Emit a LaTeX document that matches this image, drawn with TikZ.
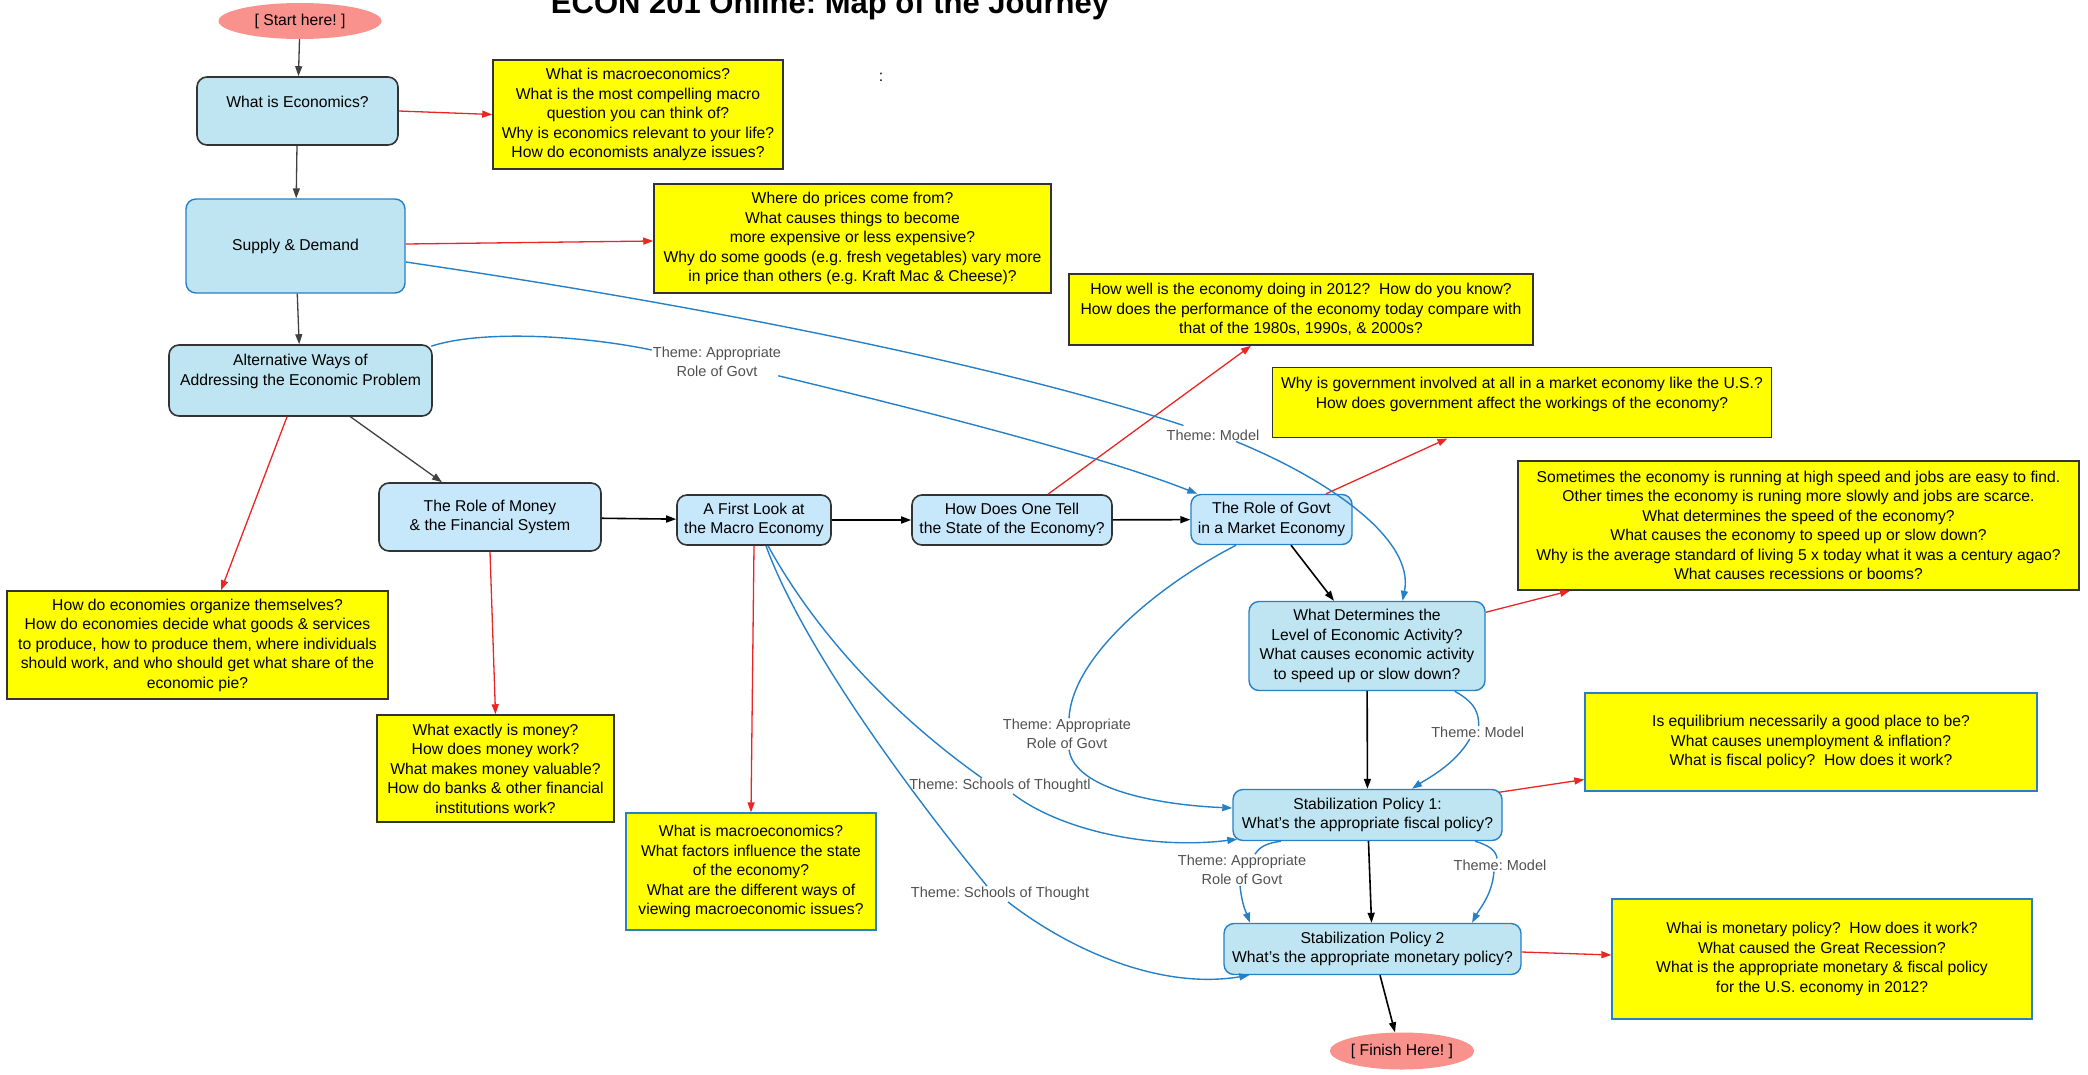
\documentclass[tikz,border=0pt]{standalone}
\usepackage{fontspec}
\setmainfont{Liberation Sans}
\usetikzlibrary{arrows.meta,shapes.geometric}
\frenchspacing
\definecolor{salmon}{RGB}{249,146,140}
\definecolor{fillA}{RGB}{190,229,241}
\definecolor{fillB}{RGB}{199,231,251}
\definecolor{darkline}{RGB}{51,51,51}
\definecolor{blueline}{RGB}{38,128,200}
\definecolor{redline}{RGB}{236,36,36}
\definecolor{ylw}{RGB}{255,255,0}
\definecolor{lblgray}{RGB}{80,80,80}
\definecolor{arrowgray}{RGB}{64,64,64}
\begin{document}
\begin{tikzpicture}[x=1pt,y=-1pt,
  every node/.style={font=\fontsize{15.7}{19.5}\selectfont, align=center, inner sep=0pt},
  oval/.style={ellipse, fill=salmon},
  darkbox/.style={rectangle, rounded corners=10pt, draw=darkline, line width=1.6pt},
  bluebox/.style={rectangle, rounded corners=10pt, draw=blueline, line width=1.4pt},
  ydark/.style={rectangle, fill=ylw, draw=darkline, line width=1.5pt},
  yblue/.style={rectangle, fill=ylw, draw=blueline, line width=1.3pt},
  lbl/.style={font=\fontsize{14.5}{18.5}\selectfont, text=lblgray, inner sep=1pt},
  tip/.style={-{Triangle[length=10pt,width=7pt]}},
  garr/.style={tip, draw=arrowgray, line width=1.3pt},
  karr/.style={tip, draw=black, line width=1.6pt},
  rarr/.style={tip, draw=redline, line width=1.3pt},
  bline/.style={draw=blueline, line width=1.4pt},
  barr/.style={tip, draw=blueline, line width=1.4pt}
]
\useasboundingbox (0,0) rectangle (2088,1074);

% title and stray colon
\node[font=\bfseries\fontsize{31}{37}\selectfont, anchor=base] (title) at (830,13) {ECON 201 Online: Map of the Journey};
\node (colon) at (881,77) {:};

% main nodes
\node[oval, minimum width=163pt, minimum height=36pt] (start) at (300,21) {[ Start here! ]};
\node[darkbox, fill=fillA, minimum width=201pt, minimum height=68pt] (whatecon) at (297.5,111) {};
\node (whateconT) at (297.5,102) {What is Economics?};
\node[bluebox, fill=fillA, minimum width=219pt, minimum height=94pt] (snd) at (295.5,246) {Supply \& Demand};
\node[darkbox, fill=fillA, minimum width=263pt, minimum height=71pt] (alt) at (300.5,380.5) {};
\node (altT) at (300.5,371.5) {Alternative Ways of\\Addressing the Economic Problem};
\node[darkbox, fill=fillB, minimum width=222pt, minimum height=68pt] (money) at (490,517) {The Role of Money\\\& the Financial System};
\node[darkbox, fill=fillB, minimum width=154pt, minimum height=50pt] (first) at (754,520) {A First Look at\\the Macro Economy};
\node[darkbox, fill=fillB, minimum width=200pt, minimum height=50pt] (howtell) at (1012,520) {How Does One Tell\\the State of the Economy?};
\node[bluebox, fill=fillB, minimum width=161pt, minimum height=50pt] (rolegovt) at (1271.5,519.5) {The Role of Govt\\in a Market Economy};
\node[bluebox, fill=fillA, minimum width=236pt, minimum height=89pt] (whatdet) at (1367,646) {What Determines the\\Level of Economic Activity?\\What causes economic activity\\to speed up or slow down?};
\node[bluebox, fill=fillA, minimum width=269pt, minimum height=51pt] (stab1) at (1367.5,815) {Stabilization Policy 1:\\What's the appropriate fiscal policy?};
\node[bluebox, fill=fillA, minimum width=297pt, minimum height=51pt] (stab2) at (1372.5,949) {Stabilization Policy 2\\What's the appropriate monetary policy?};
\node[oval, minimum width=140pt, minimum height=37pt] (finish) at (1402,1051) {[ Finish Here! ]};

% question boxes
\node[ydark, minimum width=290pt, minimum height=109pt] (y1) at (638,114.5) {What is macroeconomics?\\What is the most compelling macro\\question you can think of?\\Why is economics relevant to your life?\\How do economists analyze issues?};
\node[ydark, minimum width=397pt, minimum height=109pt] (y2) at (852.5,238.5) {Where do prices come from?\\What causes things to become\\more expensive or less expensive?\\Why do some goods (e.g. fresh vegetables) vary more\\in price than others (e.g. Kraft Mac \& Cheese)?};
\node[ydark, minimum width=464pt, minimum height=71pt] (yhow) at (1301,309.5) {How well is the economy doing in 2012?\ \ How do you know?\\How does the performance of the economy today compare with\\that of the 1980s, 1990s, \& 2000s?};
\node[ydark, minimum width=499pt, minimum height=70pt] (ygov) at (1522,402.7) {};
\node (ygovT) at (1522,394.5) {Why is government involved at all in a market economy like the U.S.?\\How does government affect the workings of the economy?};
\node[ydark, minimum width=561pt, minimum height=129pt] (yspeed) at (1798.5,525.5) {Sometimes the economy is running at high speed and jobs are easy to find.\\Other times the economy is runing more slowly and jobs are scarce.\\What determines the speed of the economy?\\What causes the economy to speed up or slow down?\\Why is the average standard of living 5 x today what it was a century agao?\\What causes recessions or booms?};
\node[ydark, minimum width=381pt, minimum height=108pt] (yorg) at (197.5,645) {How do economies organize themselves?\\How do economies decide what goods \& services\\to produce, how to produce them, where individuals\\should work, and who should get what share of the\\economic pie?};
\node[ydark, minimum width=237pt, minimum height=107pt] (ymoney) at (495.5,768.5) {What exactly is money?\\How does money work?\\What makes money valuable?\\How do banks \& other financial\\institutions work?};
\node[yblue, minimum width=250pt, minimum height=117pt] (ymacro) at (751,871.5) {What is macroeconomics?\\What factors influence the state\\of the economy?\\What are the different ways of\\viewing macroeconomic issues?};
\node[yblue, minimum width=452pt, minimum height=98pt] (yequil) at (1811,742) {Is equilibrium necessarily a good place to be?\\What causes unemployment \& inflation?\\What is fiscal policy?\ \ How does it work?};
\node[yblue, minimum width=420pt, minimum height=120pt] (ymon) at (1822,959) {Whai is monetary policy?\ \ How does it work?\\What caused the Great Recession?\\What is the appropriate monetary \& fiscal policy\\for the U.S. economy in 2012?};

% theme labels
\node[lbl] (lblA1) at (717,362) {Theme: Appropriate\\Role of Govt};
\node[lbl] (lblM1) at (1213,435) {Theme: Model};
\node[lbl] (lblA2) at (1067,734) {Theme: Appropriate\\Role of Govt};
\node[lbl] (lblM2) at (1477.7,732.5) {Theme: Model};
\node[lbl] (lblS1) at (1000,786) {Theme: Schools of Thoughtl};
\node[lbl] (lblS2) at (1000,894) {Theme: Schools of Thought};
\node[lbl] (lblA3) at (1242,870) {Theme: Appropriate\\Role of Govt};
\node[lbl] (lblM3) at (1500,865) {Theme: Model};

% main flow
\draw[garr] (start) -- (whatecon);
\draw[garr] (whatecon) -- (snd);
\draw[garr] (snd) -- (alt);
\draw[garr] ([xshift=50pt]alt.south) -- ([xshift=-48pt]money.north);
\draw[karr] (money) -- (first);
\draw[karr] (first) -- (howtell);
\draw[karr] (howtell) -- (rolegovt);
\draw[karr] ([xshift=19.5pt]rolegovt.south) -- ([xshift=-33pt]whatdet.north);
\draw[karr] (whatdet) -- (stab1);
\draw[karr] (stab1) -- (stab2);
\draw[karr] ([xshift=7.5pt]stab2.south) -- ([xshift=-7pt]finish.north);

% question arrows
\draw[rarr] (whatecon.east) -- (y1.west);
\draw[rarr] ([yshift=2pt]snd.east) -- ([yshift=-2.5pt]y2.west);
\draw[rarr] ([xshift=-13.5pt]alt.south) -- ([xshift=23.5pt]yorg.north);
\draw[rarr] (money.south) -- (ymoney.north);
\draw[rarr] (first.south) -- (ymacro.north);
\draw[rarr] ([xshift=36pt]howtell.north) -- ([xshift=-50pt]yhow.south);
\draw[rarr] ([xshift=54.5pt]rolegovt.north) -- ([xshift=-74.5pt]ygov.south);
\draw[rarr] ([yshift=-11.5pt]whatdet.north east) -- ([xshift=-228.5pt]yspeed.south);
\draw[rarr] ([xshift=-4pt,yshift=-3.5pt]stab1.north east) -- ([yshift=-37.5pt]yequil.west);
\draw[rarr] ([yshift=-3pt]stab2.east) -- ([yshift=4pt]ymon.west);

% theme connectors
\draw[bline] ([yshift=-16pt]snd.east) .. controls (700,305) and (1000,365) .. ([xshift=18pt,yshift=3pt]lblM1.north west);
\draw[barr] ([xshift=23pt]lblM1.south) .. controls (1330,480) and (1415,540) .. ([xshift=35.5pt]whatdet.north);

\draw[bline] ([xshift=-1.5pt,yshift=-2pt]alt.north east) .. controls (480,330) and (580,335) .. ([yshift=12pt]lblA1.west);
\draw[barr] ([xshift=-4pt,yshift=2pt]lblA1.south east) .. controls (900,405) and (1100,455) .. ([xshift=7pt]rolegovt.north west);

\draw[bline] ([xshift=-35.5pt]rolegovt.south) .. controls (1150,590) and (1072,660) .. ([xshift=2pt]lblA2.north);
\draw[barr] ([xshift=2pt]lblA2.south) .. controls (1075,790) and (1160,805) .. ([yshift=7pt]stab1.west);

\draw[bline] ([xshift=87.7pt]whatdet.south) .. controls (1470,700) and (1479,708) .. ([xshift=1pt]lblM2.north);
\draw[barr] ([xshift=-8pt]lblM2.south) .. controls (1455,765) and (1425,780) .. ([xshift=44.5pt]stab1.north);

\draw[bline] ([xshift=-86.5pt]stab1.south) .. controls (1268,843) and (1260,846) .. ([xshift=13pt]lblA3.north);
\draw[barr] ([xshift=-2pt]lblA3.south) .. controls (1242,905) and (1246,912) .. ([xshift=-122.5pt]stab2.north);

\draw[bline] ([xshift=107.5pt]stab1.south) .. controls (1488,845) and (1496,850) .. ([xshift=-3pt]lblM3.north);
\draw[barr] ([xshift=-6pt]lblM3.south) .. controls (1492,895) and (1480,908) .. ([xshift=99.5pt]stab2.north);

\draw[bline] ([xshift=14pt]first.south) .. controls (820,640) and (900,720) .. ([xshift=-18pt]lblS1.north);
\draw[barr] ([xshift=13pt]lblS1.south) .. controls (1060,830) and (1150,850) .. ([xshift=5pt,yshift=2pt]stab1.south west);

\draw[bline] ([xshift=12pt]first.south) .. controls (800,640) and (900,780) .. ([xshift=-13pt]lblS2.north);
\draw[barr] ([xshift=8pt]lblS2.south) .. controls (1070,950) and (1160,990) .. ([xshift=26pt]stab2.south west);
\end{tikzpicture}
\end{document}
